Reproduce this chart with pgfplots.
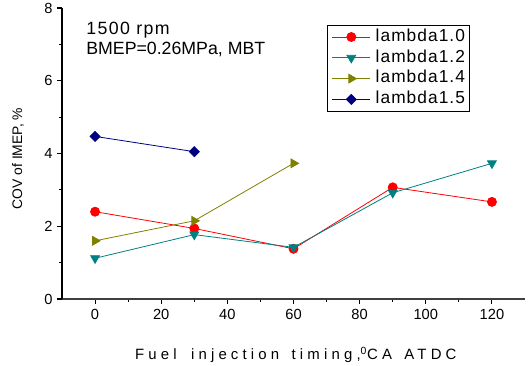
\documentclass[border=0pt]{standalone}
\usepackage{fontspec}
\setmainfont{Liberation Sans}
\usepackage{pgfplots}
\pgfplotsset{compat=1.18}
\definecolor{cred}{RGB}{255,0,0}
\definecolor{cteal}{RGB}{0,128,128}
\definecolor{colive}{RGB}{128,128,0}
\definecolor{cnavy}{RGB}{0,0,128}
\begin{document}
\begin{tikzpicture}
\begin{axis}[
  scale only axis,
  width=347.25pt, height=218.25pt,
  xmin=-10, xmax=130, ymin=0, ymax=8,
  axis x line*=bottom, axis y line*=left,
  x axis line style={draw=black!75, line width=1pt},
  y axis line style={draw=black, line width=1pt},
  xtick={0,20,...,120}, ytick={0,2,...,8},
  minor x tick num=1, minor y tick num=1,
  tick align=outside,
  major tick length=3.5pt, minor tick length=2.2pt,
  tick style={black, line width=0.8pt},
  /pgf/number format/assume math mode=true,
  ticklabel style={font=\fontsize{11}{13}\selectfont},
  xticklabel style={yshift=-1pt},
  xlabel={\addfontfeature{LetterSpace=28}Fuel\hspace{4.5pt} injection\hspace{3pt} timing,\textsuperscript{0}CA\hspace{3pt} ATDC},
  xlabel style={at={(axis description cs:0.505,-0.192)}, anchor=center, font=\fontsize{11.2}{13}\selectfont},
  ylabel={COV of IMEP, \%},
  ylabel style={at={(axis description cs:-0.095,0.483)}, anchor=center, font=\fontsize{10.4}{12}\selectfont},
  legend style={at={(rel axis cs:0.572,0.942)}, anchor=north west,
    draw=black, line width=0.6pt, inner xsep=3.5pt, inner ysep=1pt,
    font=\fontsize{13}{15}\selectfont\addfontfeature{LetterSpace=6},
    nodes={inner sep=0pt, text height=11pt, text depth=4.6pt},
    column sep=3.75pt},
  legend cell align=left,
  legend image code/.code={%
    \draw[mark repeat=2, mark phase=2] plot coordinates {(0pt,0pt) (14.25pt,0pt) (28.5pt,0pt)};},
]
\addplot[cred, line width=0.6pt, mark=*, mark size=3.4pt, mark options={solid}]
  coordinates {(0,2.40) (30,1.94) (60,1.38) (90,3.07) (120,2.67)};
\addlegendentry{lambda1.0}
\addplot[cteal, line width=0.6pt, mark=triangle*, mark size=3.8pt, mark options={rotate=180, solid}]
  coordinates {(0,1.12) (30,1.77) (60,1.42) (90,2.92) (120,3.73)};
\addlegendentry{lambda1.2}
\addplot[colive, line width=0.6pt, mark=triangle*, mark size=3.8pt, mark options={rotate=-90, solid}]
  coordinates {(0,1.60) (30,2.15) (60,3.73)};
\addlegendentry{lambda1.4}
\addplot[cnavy, line width=0.6pt, mark=square*, mark size=2.65pt, mark options={rotate=45, solid}]
  coordinates {(0,4.47) (30,4.05)};
\addlegendentry{lambda1.5}
\node[anchor=west, inner sep=0pt, font=\fontsize{13.3}{15}\selectfont\addfontfeature{LetterSpace=8}] at (rel axis cs:0.052,0.924) {1500 rpm};
\node[anchor=west, inner sep=0pt, font=\fontsize{13.3}{15}\selectfont] at (rel axis cs:0.052,0.856) {BMEP=0.26MPa, MBT};
\coordinate (BL) at (rel axis cs:0,0);
\coordinate (TR) at (rel axis cs:1,1);
\end{axis}
\pgfresetboundingbox
\path[use as bounding box] ([xshift=-46.5pt,yshift=-49.5pt]BL) rectangle ([xshift=3.75pt,yshift=6pt]TR);
\end{tikzpicture}
\end{document}
